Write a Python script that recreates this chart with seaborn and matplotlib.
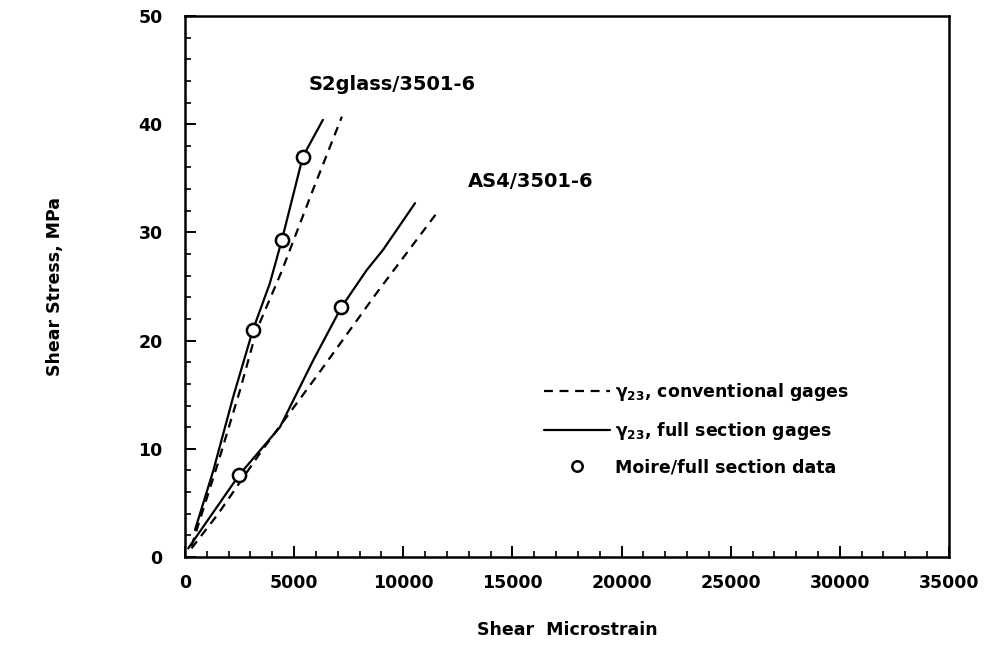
import numpy as np
import pandas as pd
import seaborn as sns
import matplotlib.pyplot as plt
from matplotlib.lines import Line2D
from matplotlib.ticker import MultipleLocator

# S2glass/3501-6, conventional gages (dashed)
s2_conv_strain = [300, 1500, 2520, 3290, 4430, 5800, 7190]
s2_conv_stress = [1.0, 8.6, 15.4, 21.0, 26.4, 33.6, 40.7]

# S2glass/3501-6, full section gages (solid)
s2_full_strain = [460, 1300, 2210, 3115, 3440, 3890, 4440, 5400, 6320]
s2_full_stress = [2.5, 8.0, 14.8, 21.0, 22.8, 25.3, 29.3, 37.0, 40.4]

# AS4/3501-6, conventional gages (dashed)
as4_conv_strain = [300, 1525, 3440, 6030, 8780, 11540]
as4_conv_stress = [0.8, 4.0, 9.6, 16.7, 24.4, 31.8]

# AS4/3501-6, full section gages (solid)
as4_full_strain = [150, 2490, 4350, 5880, 7170, 8320, 9080, 10540]
as4_full_stress = [0.8, 7.6, 12.0, 18.2, 23.1, 26.5, 28.4, 32.7]

# Moire / full section data points
moire_strain = [2490, 3120, 4440, 5400, 7170]
moire_stress = [7.6, 21.0, 29.3, 37.0, 23.1]

x_ticks = [0, 5000, 10000, 15000, 20000, 25000, 30000, 35000]
y_ticks = [0, 10, 20, 30, 40, 50]

frames = []
for name, gage, xs, ys in [
    ("S2glass", "conventional", s2_conv_strain, s2_conv_stress),
    ("S2glass", "full", s2_full_strain, s2_full_stress),
    ("AS4", "conventional", as4_conv_strain, as4_conv_stress),
    ("AS4", "full", as4_full_strain, as4_full_stress),
]:
    frames.append(pd.DataFrame({"strain": xs, "stress": ys,
                                "curve": f"{name}-{gage}", "gage": gage}))
curves = pd.concat(frames, ignore_index=True)
moire = pd.DataFrame({"strain": moire_strain, "stress": moire_stress})

sns.set_theme(style="ticks")
plt.rcParams["font.family"] = ["DejaVu Sans"]
plt.rcParams["text.color"] = "black"
plt.rcParams["axes.labelcolor"] = "black"
plt.rcParams["xtick.color"] = "black"
plt.rcParams["ytick.color"] = "black"
plt.rcParams["mathtext.fontset"] = "custom"
plt.rcParams["mathtext.rm"] = "DejaVu Sans:bold"
plt.rcParams["mathtext.it"] = "DejaVu Sans:bold"

fig = plt.figure(figsize=(9.88, 6.55), dpi=100)
ax = fig.add_axes([0.1872, 0.1496, 0.7733, 0.826])

sns.lineplot(data=curves, x="strain", y="stress", units="curve", estimator=None,
             style="gage", dashes={"conventional": (4, 3), "full": ""},
             sort=False, color="black", linewidth=1.6, legend=False, ax=ax)
sns.scatterplot(data=moire, x="strain", y="stress", marker="o", s=90,
                facecolor="white", edgecolor="black", linewidth=1.8,
                zorder=5, legend=False, ax=ax)

ax.set_xlim(0, 35000)
ax.set_ylim(0, 50)
ax.set_xticks(x_ticks)
ax.set_yticks(y_ticks)
ax.xaxis.set_minor_locator(MultipleLocator(1000))
ax.yaxis.set_minor_locator(MultipleLocator(2))
ax.tick_params(axis="both", which="major", direction="in", length=8, width=1.4,
               top=False, right=False, labelsize=12.5, colors="black")
ax.tick_params(axis="both", which="minor", direction="in", length=4, width=1.2,
               top=False, right=False, colors="black")
ax.tick_params(axis="y", which="major", pad=16)
ax.tick_params(axis="x", which="major", pad=12)
for lab in ax.get_xticklabels() + ax.get_yticklabels():
    lab.set_fontweight("bold")
for sp in ax.spines.values():
    sp.set_visible(True)
    sp.set_linewidth(1.8)
    sp.set_color("black")

ax.set_xlabel("Shear  Microstrain", fontsize=12.5, fontweight="bold")
ax.set_ylabel("Shear Stress, MPa", fontsize=12.5, fontweight="bold")
ax.xaxis.set_label_coords(0.5, -0.118)
ax.yaxis.set_label_coords(-0.158, 0.5)

ax.text(9480, 43.7, "S2glass/3501-6", fontsize=14, fontweight="bold",
        ha="center", va="center")
ax.text(15850, 34.7, "AS4/3501-6", fontsize=14, fontweight="bold",
        ha="center", va="center")

handles = [
    Line2D([], [], color="black", linewidth=1.6, dashes=(4, 3)),
    Line2D([], [], color="black", linewidth=1.6),
    Line2D([], [], color="black", linestyle="none", marker="o",
           markerfacecolor="white", markeredgewidth=1.8, markersize=7.5),
]
labels = [r"$\gamma_{23}$, conventional gages",
          r"$\gamma_{23}$, full section gages",
          "Moire/full section data"]
leg = ax.legend(handles, labels, loc="upper left", bbox_to_anchor=(0.470, 0.325),
                frameon=False, fontsize=12.5, handlelength=3.8, handletextpad=0.3,
                labelspacing=0.95, borderaxespad=0, borderpad=0)
for t in leg.get_texts():
    t.set_fontweight("bold")
    t.set_color("black")

fig.savefig("out.png", dpi=100)
